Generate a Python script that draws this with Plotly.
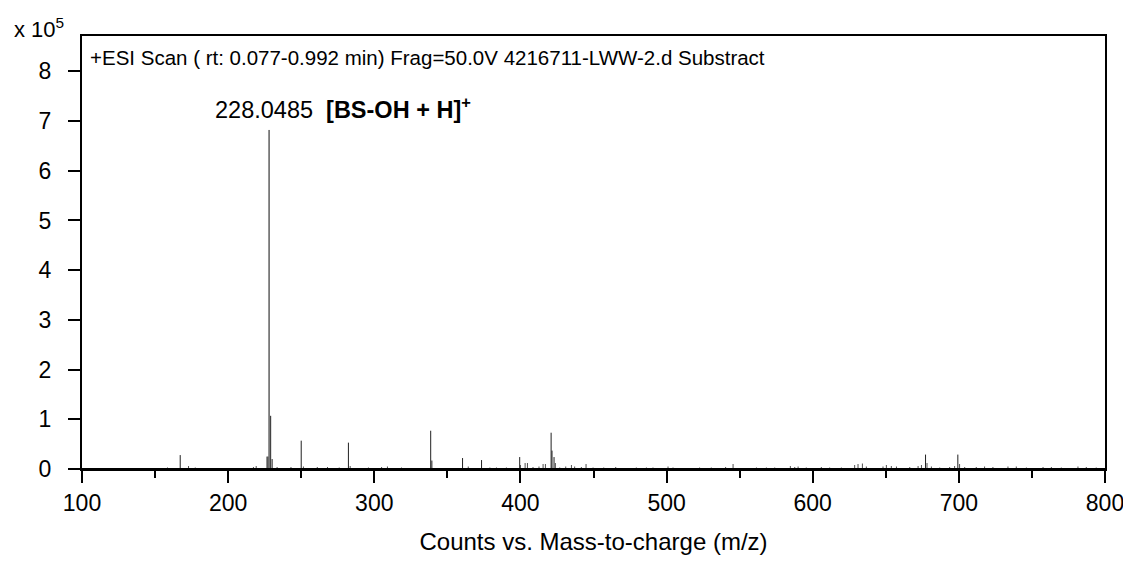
import plotly.graph_objects as go

# ---- data (intensity in units of 10^5 counts) ----
major_mz = [167.2, 226.6, 227.3, 228.0485, 229.1, 230.1, 250.0, 282.3, 338.6, 339.4,
            360.4, 373.4, 399.5, 421.0, 421.6, 423.0, 677.2, 699.3]
major_int = [0.28, 0.25, 0.25, 6.82, 1.07, 0.20, 0.57, 0.53, 0.77, 0.17,
             0.22, 0.18, 0.24, 0.73, 0.37, 0.24, 0.29, 0.29]

minor_mz = [126.1, 158.5, 172.9, 177.5, 217.3, 219.2, 233.5, 243.0, 251.5, 261.0,
            268.0, 276.0, 283.5, 296.0, 305.0, 309.0, 318.6, 322.2, 364.3, 379.1,
            383.6, 390.4, 400.0, 403.2, 404.8, 408.6, 412.7, 415.5, 417.1, 423.9,
            426.9, 431.0, 434.9, 437.1, 441.7, 444.9, 449.7, 457.0, 465.2, 479.3,
            486.2, 490.7, 501.0, 504.4, 509.0, 522.6, 530.6, 540.4, 545.5, 561.5,
            568.3, 574.0, 584.7, 587.7, 590.0, 595.6, 605.9, 611.6, 619.6, 628.7,
            631.0, 634.0, 636.7, 648.1, 650.4, 653.8, 657.3, 666.4, 672.1, 674.4,
            678.2, 681.2, 686.9, 693.7, 697.1, 700.5, 704.0, 711.9, 717.6, 723.3,
            733.6, 739.3, 746.2, 757.6, 763.3, 770.1, 781.5, 787.2, 794.0]
minor_int = [0.02, 0.03, 0.06, 0.03, 0.04, 0.06, 0.04, 0.04, 0.05, 0.04,
             0.04, 0.03, 0.06, 0.03, 0.04, 0.05, 0.03, 0.02, 0.05, 0.03,
             0.03, 0.03, 0.08, 0.12, 0.12, 0.04, 0.05, 0.10, 0.10, 0.12,
             0.03, 0.05, 0.08, 0.05, 0.04, 0.10, 0.03, 0.03, 0.04, 0.03,
             0.03, 0.03, 0.05, 0.03, 0.02, 0.03, 0.03, 0.04, 0.10, 0.03,
             0.03, 0.03, 0.06, 0.04, 0.05, 0.03, 0.04, 0.03, 0.03, 0.08,
             0.10, 0.11, 0.05, 0.05, 0.08, 0.06, 0.05, 0.04, 0.06, 0.08,
             0.12, 0.05, 0.03, 0.04, 0.06, 0.10, 0.04, 0.04, 0.05, 0.04,
             0.05, 0.05, 0.03, 0.04, 0.04, 0.03, 0.05, 0.04, 0.03]

x_ticks = [100, 200, 300, 400, 500, 600, 700, 800]
y_ticks = [0, 1, 2, 3, 4, 5, 6, 7, 8]

scan_label = "+ESI Scan ( rt: 0.077-0.992 min) Frag=50.0V 4216711-LWW-2.d Substract"
peak_label = "228.0485  <b>[BS-OH + H]<sup>+</sup></b>"
base_peak_mz = 228.0485
base_peak_int = 6.82

FONT = "Liberation Sans, Arial, sans-serif"


def stems(xs, ys):
    sx, sy = [], []
    for x, y in zip(xs, ys):
        sx += [x, x, None]
        sy += [0, y, None]
    return sx, sy


fig = go.Figure()
mx, my = stems(minor_mz, minor_int)
fig.add_trace(go.Scatter(x=mx, y=my, mode="lines",
                         line=dict(color="#505050", width=1), hoverinfo="skip"))
Mx, My = stems(major_mz, major_int)
fig.add_trace(go.Scatter(x=Mx, y=My, mode="lines",
                         line=dict(color="#202020", width=1), hoverinfo="skip"))
# base peak drawn in grey as in the reference
fig.add_trace(go.Scatter(x=[base_peak_mz, base_peak_mz], y=[0, base_peak_int], mode="lines",
                         line=dict(color="#7a7a7a", width=1.2), hoverinfo="skip"))
# baseline
fig.add_trace(go.Scatter(x=[100, 800], y=[0, 0], mode="lines",
                         line=dict(color="black", width=2), hoverinfo="skip"))

fig.update_layout(
    width=1115, height=547,
    margin=dict(l=74, r=18, t=28, b=86),
    paper_bgcolor="white", plot_bgcolor="white",
    showlegend=False,
    font=dict(family=FONT, size=23, color="black"),
    xaxis=dict(range=[100, 800], tickvals=x_ticks, ticks="outside", ticklen=12,
               tickwidth=2, tickcolor="black", showline=True, linecolor="black",
               linewidth=2, mirror=True, showgrid=False, zeroline=False,
               tickfont=dict(size=23), ticklabelstandoff=0,
               ticklabeloverflow="allow", automargin=False,
               minor=dict(dtick=50, ticks="outside", ticklen=7, tickwidth=2,
                          tickcolor="black", showgrid=False),
               title=dict(text="Counts vs. Mass-to-charge (m/z)",
                          font=dict(size=24), standoff=19)),
    yaxis=dict(range=[0, 8.71], tickvals=y_ticks, ticks="outside", ticklen=12,
               tickwidth=2, tickcolor="black", showline=True, linecolor="black",
               linewidth=2, mirror=True, showgrid=False, zeroline=False,
               tickfont=dict(size=23), ticklabelstandoff=12, automargin=False),
)

fig.add_annotation(xref="paper", yref="paper", x=0, y=1, xanchor="right",
                   yanchor="middle", xshift=-16, yshift=8, showarrow=False,
                   text="x 10<sup>5</sup>", font=dict(size=22))
fig.add_annotation(xref="paper", yref="paper", x=0, y=1, xanchor="left",
                   yanchor="middle", xshift=6, yshift=-21, showarrow=False,
                   text=scan_label, font=dict(size=20.5))
fig.add_annotation(x=base_peak_mz, y=base_peak_int, xanchor="left",
                   yanchor="bottom", xshift=-56, yshift=5, showarrow=False,
                   text=peak_label, font=dict(size=23.5))

fig.write_html("out.html")
